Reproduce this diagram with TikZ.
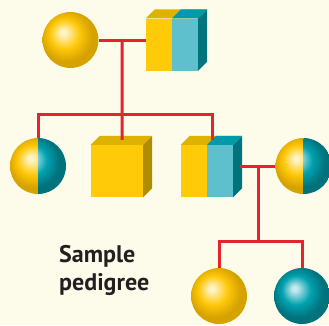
\documentclass[tikz,border=0pt]{standalone}
\usepackage{fontspec}
\setsansfont{PT Sans}
\usetikzlibrary{positioning,calc}

\definecolor{paper}{RGB}{253,252,235}
\definecolor{linkred}{RGB}{227,35,45}
\definecolor{textgray}{RGB}{35,31,32}
\definecolor{goldfront}{RGB}{255,203,8}
\definecolor{goldtop}{RGB}{222,178,0}
\definecolor{goldside}{RGB}{176,140,0}
\definecolor{tealfront}{RGB}{94,192,204}
\definecolor{tealtop}{RGB}{0,155,168}
\definecolor{tealside}{RGB}{0,115,125}
\definecolor{goldhi}{RGB}{255,244,200}
\definecolor{goldmid}{RGB}{255,200,10}
\definecolor{golddark}{RGB}{214,162,0}
\definecolor{tealhi}{RGB}{200,234,238}
\definecolor{tealmid}{RGB}{0,162,176}
\definecolor{tealdark}{RGB}{0,114,124}

\pgfdeclareradialshading{goldball}{\pgfpoint{-7bp}{7bp}}{color(0bp)=(goldhi); color(2bp)=(goldhi); color(13bp)=(goldmid); color(23bp)=(golddark); color(25bp)=(golddark); color(50bp)=(golddark)}
\pgfdeclareradialshading{tealball}{\pgfpoint{-7bp}{7bp}}{color(0bp)=(tealhi); color(2bp)=(tealhi); color(13bp)=(tealmid); color(23bp)=(tealdark); color(25bp)=(tealdark); color(50bp)=(tealdark)}

% top and side faces of a cube node
\newcommand{\cubefaces}[3]{%
  \fill[#2] (#1.north west) -- ++(9,9) -- ($(#1.north east)+(9,9)$) -- (#1.north east) -- cycle;
  \fill[#3] (#1.north east) -- ++(9,9) -- ($(#1.south east)+(9,9)$) -- (#1.south east) -- cycle;}

\begin{document}
\begin{tikzpicture}[x=1pt,y=1pt]
\tikzset{
  ball/.style={circle, minimum size=56pt, inner sep=0pt, shade, shading=#1},
  halfball/.style={circle, minimum size=56pt, inner sep=0pt, path picture={
    \begin{scope}
      \clip (path picture bounding box.south west) rectangle (path picture bounding box.north);
      \shade[shading=goldball] (path picture bounding box.south west) rectangle (path picture bounding box.north east);
    \end{scope}
    \begin{scope}
      \clip (path picture bounding box.south) rectangle (path picture bounding box.north east);
      \shade[shading=tealball] (path picture bounding box.south west) rectangle (path picture bounding box.north east);
    \end{scope}}},
  cube/.style={rectangle, minimum width=52pt, minimum height=52pt, inner sep=0pt, fill=goldfront},
  halfcube/.style={cube, path picture={
    \fill[tealfront] (path picture bounding box.south) rectangle (path picture bounding box.north east);}},
  link/.style={draw=linkred, line width=3pt},
  caption/.style={font=\sffamily\bfseries\fontsize{24}{28}\selectfont, text=textgray, align=left, inner sep=0pt}
}
\fill[paper] (0,0) rectangle (329,325);
\useasboundingbox (0,0) rectangle (329,325);

% parents
\node[ball=goldball] (mother) at (70.5,285) {};
\node[halfcube] (father) at (172,280.5) {};
\cubefaces{father}{goldtop}{tealside}
\fill[tealtop] (father.north) -- ++(9,9) -- ($(father.north east)+(9,9)$) -- (father.north east) -- cycle;

% children
\node[halfball] (child1) at (38,159) {};
\node[cube] (child2) at (117,154) {};
\cubefaces{child2}{goldtop}{goldside}
\node[halfcube] (child3) at (207,154) {};
\cubefaces{child3}{goldtop}{tealside}
\fill[tealtop] (child3.north) -- ++(9,9) -- ($(child3.north east)+(9,9)$) -- (child3.north east) -- cycle;
\node[halfball] (spouse) at (303.5,159) {};

% grandchildren
\node[ball=goldball] (gchild1) at (219,29) {};
\node[ball=tealball] (gchild2) at (302,29) {};

\node[caption, anchor=west] (title) at (59,54.5) {Sample\\pedigree};

% lines
\draw[link] (mother.east) -- (mother.east -| father.west);
\coordinate (m1) at ($(mother.east)!0.5!(mother.east -| father.west)$);
\coordinate (bar1) at ($(m1)+(0,-74)$);
\draw[link] (m1) -- ($(child2.north)+(5,5)$);
\draw[link] (child1.north) |- (bar1) -| ($(child3.north)+(5,5)$);

\draw[link] (spouse.west) -- ($(spouse.west -| child3.east)+(7,0)$);
\coordinate (m2) at ($(spouse.west)+(-17,0)$);
\coordinate (bar2) at ($(m2)+(0,-75)$);
\draw[link] (m2) -- (bar2);
\draw[link] (gchild1.north) |- (bar2) -| (gchild2.north);
\end{tikzpicture}
\end{document}
